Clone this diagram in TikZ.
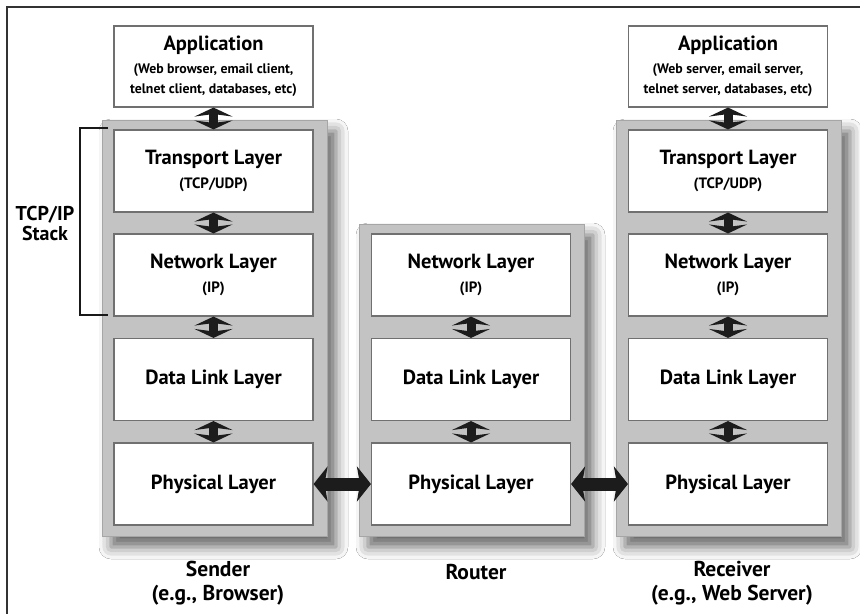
\documentclass[tikz,border=0pt]{standalone}
\usepackage{fontspec}
\setmainfont{PT Sans}
\usetikzlibrary{arrows.meta,shadows.blur}
\definecolor{panelgray}{HTML}{C3C3C3}
\definecolor{panelborder}{HTML}{A6A6A6}
\definecolor{boxborder}{HTML}{707070}
\definecolor{arrowblack}{HTML}{1C1C1C}
\newcommand\subtxt{\fontsize{15}{17}\selectfont}
\newcommand\apptxt{\fontsize{13.8}{14}\selectfont}
\tikzset{
  panel/.style={fill=panelgray, draw=panelborder, line width=1pt,
    blur shadow={shadow xshift=9pt, shadow yshift=-11pt, shadow blur radius=12pt, shadow opacity=60}},
  layerbox/.style={fill=white, draw=boxborder, line width=1.1pt, minimum width=199pt, minimum height=82pt,
    inner sep=0pt, align=center, font=\bfseries\fontsize{20.5}{23}\selectfont},
  vlink/.style={arrowblack, line width=9pt,
    {Stealth[length=9pt,width=38pt,inset=2.5pt]}-{Stealth[length=9pt,width=38pt,inset=2.5pt]}},
  hlink/.style={arrowblack, line width=13pt,
    {Stealth[length=14pt,width=35pt,inset=3pt]}-{Stealth[length=14pt,width=35pt,inset=3pt]}},
  caption/.style={align=center, font=\bfseries\fontsize{21.5}{24}\selectfont},
}
\begin{document}
\begin{tikzpicture}[x=1pt,y=-1pt]
\useasboundingbox (0,0) rectangle (860,614);
\fill[white] (0,0) rectangle (860,614);
% frame
\draw[line width=1.2pt, black!80] (860,7) -- (7,7) -- (7,614);

% panels
\node[panel, minimum width=225pt, minimum height=416pt, inner sep=0pt] (sp) at (214.5,328) {};
\node[panel, minimum width=225pt, minimum height=312pt, inner sep=0pt] (rp) at (471.5,380) {};
\node[panel, minimum width=225pt, minimum height=416pt, inner sep=0pt] (vp) at (728.5,328) {};

% sender
\node[layerbox, minimum height=81pt] (sa) at (213.5,66.5) {Application\\[0pt]{\apptxt (Web browser, email client,}\\[-3pt]{\apptxt telnet client, databases, etc)}};
\node[layerbox] (st) at (213.5,171) {Transport Layer\\[1pt]{\subtxt (TCP/UDP)}};
\node[layerbox] (sn) at (213.5,275) {Network Layer\\[1pt]{\subtxt (IP)}};
\node[layerbox] (sd) at (213.5,379.5) {Data Link Layer};
\node[layerbox] (sy) at (213.5,484) {Physical Layer};

% router
\node[layerbox] (rn) at (471,275) {Network Layer\\[1pt]{\subtxt (IP)}};
\node[layerbox] (rd) at (471,379.5) {Data Link Layer};
\node[layerbox] (ry) at (471,484) {Physical Layer};

% receiver
\node[layerbox, minimum height=81pt] (va) at (728,66.5) {Application\\[0pt]{\apptxt (Web server, email server,}\\[-3pt]{\apptxt telnet server, databases, etc)}};
\node[layerbox] (vt) at (728,171) {Transport Layer\\[1pt]{\subtxt (TCP/UDP)}};
\node[layerbox] (vn) at (728,275) {Network Layer\\[1pt]{\subtxt (IP)}};
\node[layerbox] (vd) at (728,379.5) {Data Link Layer};
\node[layerbox] (vy) at (728,484) {Physical Layer};

% vertical links
\foreach \a/\b in {sa/st,st/sn,sn/sd,sd/sy,rn/rd,rd/ry,va/vt,vt/vn,vn/vd,vd/vy}{
  \draw[vlink] (\a.south) -- (\b.north);
}
% horizontal links
\draw[hlink] (sy.east) -- (ry.west);
\draw[hlink] (ry.east) -- (vy.west);

% bracket
\coordinate (bt) at (108,128);
\coordinate (bb) at (108,315);
\draw[line width=2.6pt, black!90] (bt) -- (80,128) -- (80,315) -- (bb);
\node[align=center, font=\bfseries\fontsize{20}{20}\selectfont] (stack) at (45,223) {TCP/IP\\Stack};

% captions
\node[caption] (sc) at (218,583) {Sender\\(e.g., Browser)};
\node[caption] (rc) at (476,572) {Router};
\node[caption] (vc) at (732,583) {Receiver\\(e.g., Web Server)};
\end{tikzpicture}
\end{document}
